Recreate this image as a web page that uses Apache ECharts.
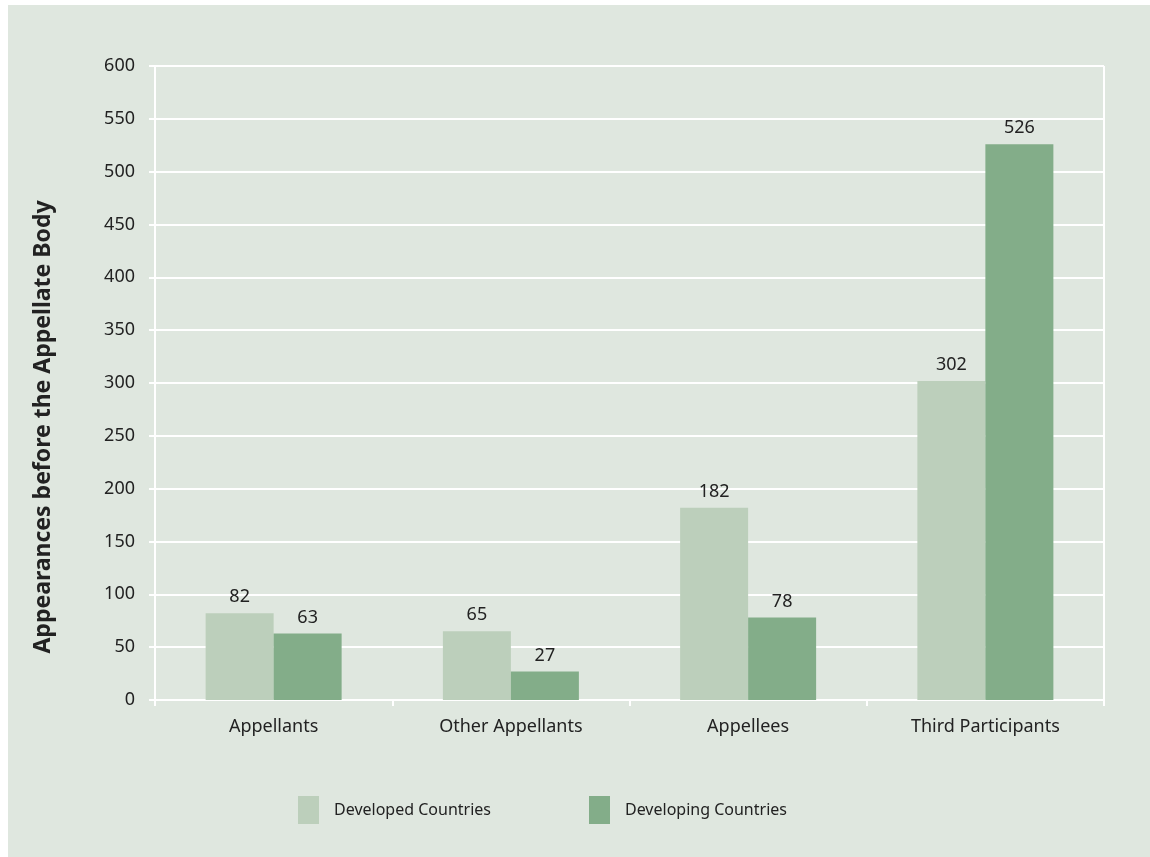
<!DOCTYPE html>
<html>
<head>
<meta charset="utf-8">
<script src="https://cdn.jsdelivr.net/npm/echarts@6/dist/echarts.min.js"></script>
<style>
html,body{margin:0;padding:0;background:#ffffff;width:1150px;height:857px;overflow:hidden;}
#chart{position:absolute;left:8px;top:5px;width:1142px;height:852px;}
</style>
</head>
<body>
<div id="chart"></div>
<script>
const categories = ['Appellants', 'Other Appellants', 'Appellees', 'Third Participants'];
const developed = [82, 65, 182, 302];
const developing = [63, 27, 78, 526];
const yTicks = { min: 0, max: 600, interval: 50 };
const seriesNames = ['Developed Countries', 'Developing Countries'];
const yAxisTitle = 'Appearances before the Appellate Body';

const FONT = '"Noto Sans", "Open Sans", sans-serif';
const chart = echarts.init(document.getElementById('chart'), null, { renderer: 'canvas' });
const labelStyle = { show: true, position: 'top', distance: 7, color: '#222', fontSize: 18, fontFamily: FONT };
chart.setOption({
  backgroundColor: '#dfe7df',
  animation: false,
  grid: { left: 147, right: 46, top: 61, bottom: 157, show: false },
  legend: {
    data: seriesNames,
    bottom: 28,
    left: 285,
    itemWidth: 21,
    itemHeight: 28,
    itemGap: 98,
    icon: 'rect',
    textStyle: { color: '#222', fontSize: 16, fontFamily: FONT, padding: [0, 0, 0, 10] }
  },
  xAxis: {
    type: 'category',
    data: categories,
    axisLine: { show: true, lineStyle: { color: '#ffffff', width: 2 } },
    axisTick: { show: true, length: 6, lineStyle: { color: '#ffffff', width: 2 } },
    axisLabel: { color: '#222', fontSize: 18, fontFamily: FONT, margin: 18 },
    splitLine: { show: false }
  },
  yAxis: {
    type: 'value',
    min: yTicks.min, max: yTicks.max, interval: yTicks.interval,
    name: yAxisTitle,
    nameLocation: 'middle',
    nameGap: 100,
    nameTextStyle: { color: '#222', fontSize: 23, fontWeight: 'bold', fontFamily: FONT, padding: [0, 88, 0, 0] },
    axisLine: { show: true, lineStyle: { color: '#ffffff', width: 2 } },
    axisTick: { show: true, length: 6, lineStyle: { color: '#ffffff', width: 2 } },
    axisLabel: { color: '#222', fontSize: 18, fontFamily: FONT, margin: 20 },
    splitLine: { show: true, lineStyle: { color: '#ffffff', width: 2 } }
  },
  series: [
    { name: seriesNames[0], type: 'bar', data: developed, barWidth: 68, barGap: '0%',
      itemStyle: { color: '#bccfbb' }, label: labelStyle },
    { name: seriesNames[1], type: 'bar', data: developing, barWidth: 68, barGap: '0%',
      itemStyle: { color: '#83ad89' }, label: labelStyle }
  ],
  graphic: [
    { type: 'line', shape: { x1: 1096, y1: 61, x2: 1096, y2: 695 }, style: { stroke: '#ffffff', lineWidth: 2 }, silent: true }
  ]
});
</script>
</body>
</html>
